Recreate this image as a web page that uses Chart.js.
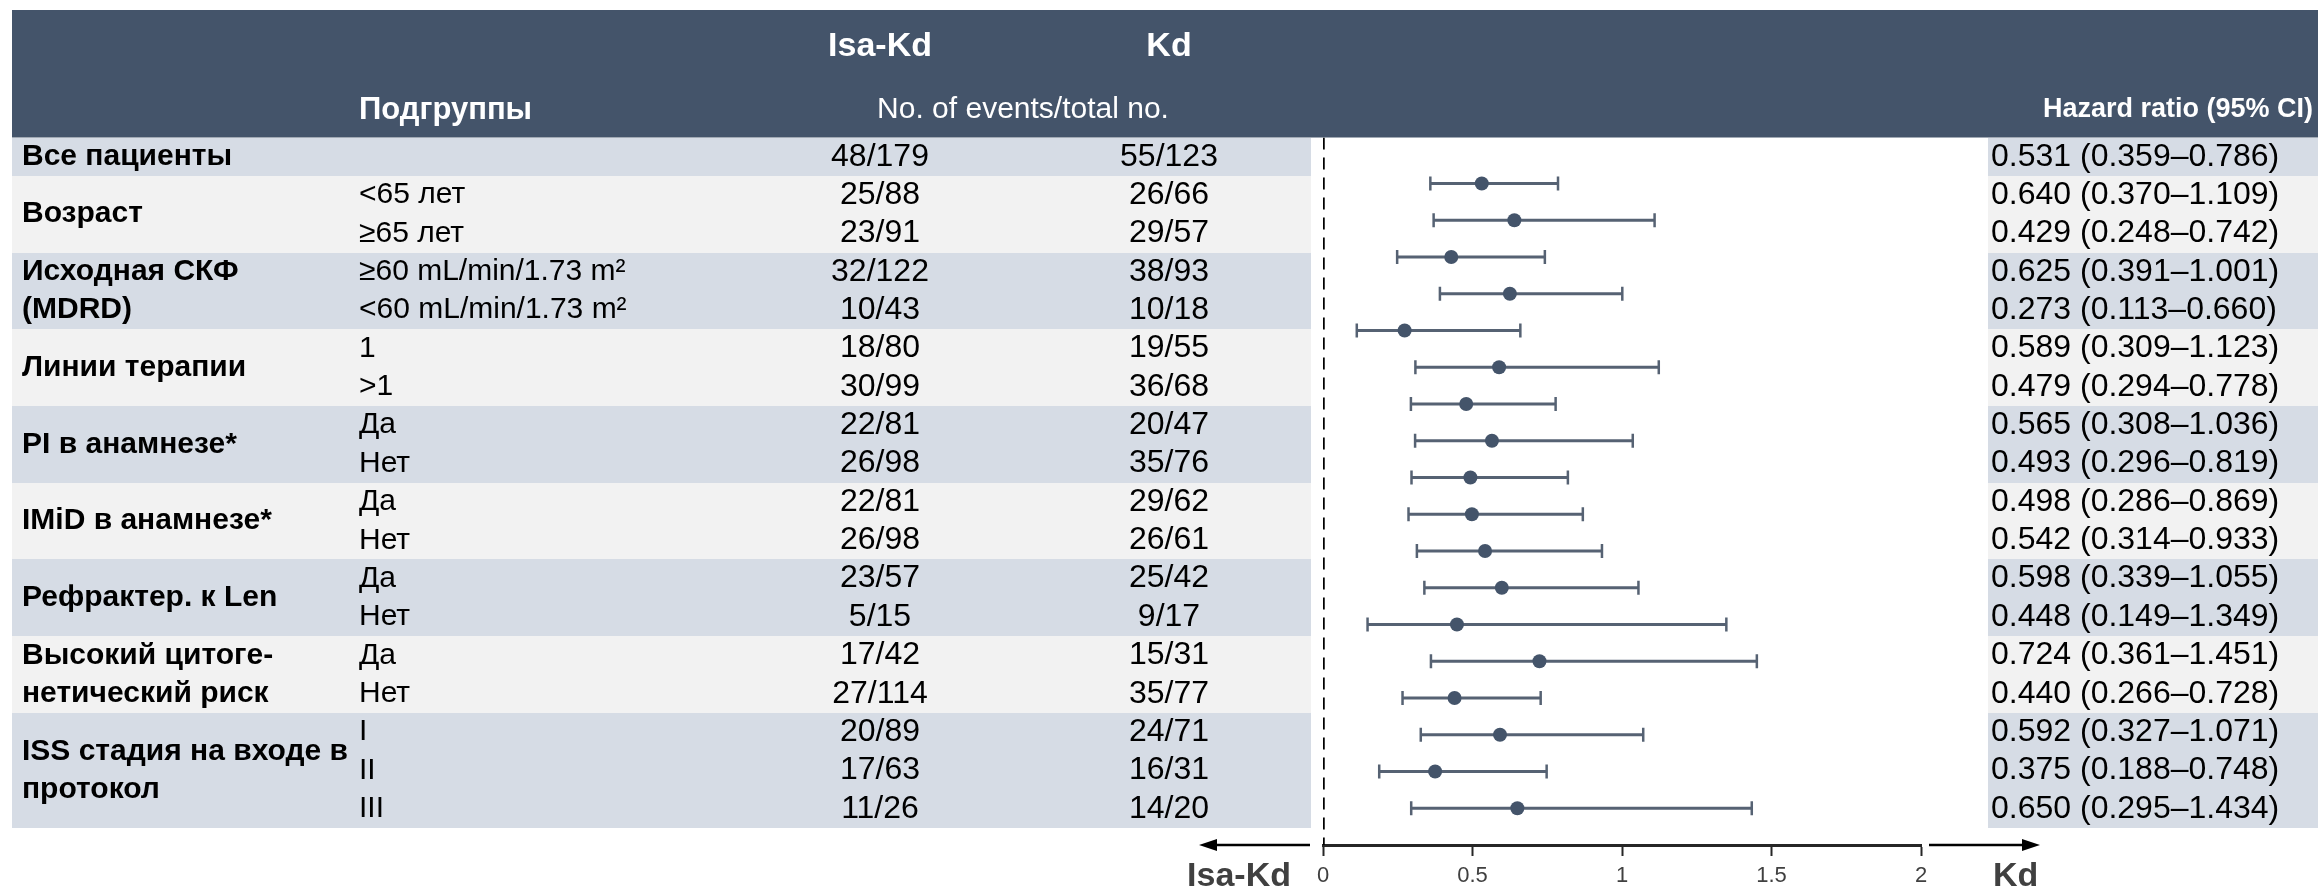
<!DOCTYPE html>
<html>
<head>
<meta charset="utf-8">
<script src="https://cdn.jsdelivr.net/npm/chart.js@4.4.1/dist/chart.umd.min.js"></script>
<style>
    html, body { margin: 0; padding: 0; background: #fff; }
    #wrap { width: 2318px; height: 892px; }
</style>
</head>
<body>
<div id="wrap"><canvas id="forest" width="2318" height="892"></canvas></div>
<script>
// Table content
const groupNames = [
    ['Все пациенты'],
    ['Возраст'],
    ['Исходная СКФ', '(MDRD)'],
    ['Линии терапии'],
    ['PI в анамнезе*'],
    ['IMiD в анамнезе*'],
    ['Рефрактер. к Len'],
    ['Высокий цитоге-', 'нетический риск'],
    ['ISS стадия на входе в', 'протокол']
];
const groupSizes = [1, 2, 2, 2, 2, 2, 2, 2, 3];
const subgroups = ['', '<65 лет', '≥65 лет', '≥60 mL/min/1.73 m²', '<60 mL/min/1.73 m²',
    '1', '>1', 'Да', 'Нет', 'Да', 'Нет', 'Да', 'Нет', 'Да', 'Нет', 'I', 'II', 'III'];
const isaKdEvents = ['48/179', '25/88', '23/91', '32/122', '10/43', '18/80', '30/99', '22/81', '26/98',
    '22/81', '26/98', '23/57', '5/15', '17/42', '27/114', '20/89', '17/63', '11/26'];
const kdEvents = ['55/123', '26/66', '29/57', '38/93', '10/18', '19/55', '36/68', '20/47', '35/76',
    '29/62', '26/61', '25/42', '9/17', '15/31', '35/77', '24/71', '16/31', '14/20'];

// Hazard ratios and 95% CI
const hazardRatio = [0.531, 0.640, 0.429, 0.625, 0.273, 0.589, 0.479, 0.565, 0.493,
    0.498, 0.542, 0.598, 0.448, 0.724, 0.440, 0.592, 0.375, 0.650];
const ciLower = [0.359, 0.370, 0.248, 0.391, 0.113, 0.309, 0.294, 0.308, 0.296,
    0.286, 0.314, 0.339, 0.149, 0.361, 0.266, 0.327, 0.188, 0.295];
const ciUpper = [0.786, 1.109, 0.742, 1.001, 0.660, 1.123, 0.778, 1.036, 0.819,
    0.869, 0.933, 1.055, 1.349, 1.451, 0.728, 1.071, 0.748, 1.434];
const xTicks = [0, 0.5, 1, 1.5, 2];

// Colours
const C = {
    header: '#44546A',
    bandBlue: '#D6DCE5',
    bandGray: '#F2F2F2',
    dot: '#44546A',
    whisker: '#566273',
    axis: '#262626',
    muted: '#404040'
};

// Layout
const W = 2318, H = 892;
const FONT = "'Liberation Sans', Arial, sans-serif";
const headerTop = 10, tableTop = 137.5, rowH = 38.36, tableLeft = 12;
const tableRight = 1311, hrLeft = 1988;
const col = { group: 22, sub: 359, isa: 880, kd: 1169, hr: 1991 };
const axisY = 845;
const rowY = i => tableTop + rowH * (i + 0.5);

const tablePlugin = {
    id: 'subgroupTable',
    beforeDraw(chart) {
        const ctx = chart.ctx;
        ctx.save();
        ctx.fillStyle = '#fff';
        ctx.fillRect(0, 0, W, H);
        ctx.fillStyle = C.header;
        ctx.fillRect(tableLeft, headerTop, W - tableLeft, tableTop - headerTop);

        let r = 0;
        groupSizes.forEach((n, g) => {
            const y0 = Math.round(tableTop + r * rowH);
            const y1 = Math.round(tableTop + (r + n) * rowH);
            ctx.fillStyle = g % 2 === 0 ? C.bandBlue : C.bandGray;
            ctx.fillRect(tableLeft, y0, tableRight - tableLeft, y1 - y0);
            ctx.fillRect(hrLeft, y0, W - hrLeft, y1 - y0);
            r += n;
        });
        ctx.restore();
    },
    afterDraw(chart) {
        const ctx = chart.ctx;
        const area = chart.chartArea;
        ctx.save();
        ctx.textBaseline = 'middle';

        // Header
        ctx.fillStyle = '#fff';
        ctx.font = `bold 34px ${FONT}`;
        ctx.textAlign = 'center';
        ctx.fillText('Isa-Kd', col.isa, 47);
        ctx.fillText('Kd', col.kd, 47);
        ctx.textAlign = 'left';
        ctx.font = `bold 31px ${FONT}`;
        ctx.fillText('Подгруппы', col.sub, 110);
        ctx.textAlign = 'center';
        ctx.font = `30px ${FONT}`;
        ctx.fillText('No. of events/total no.', 1023, 110);
        ctx.textAlign = 'right';
        ctx.font = `bold 27px ${FONT}`;
        ctx.fillText('Hazard ratio (95% CI)', W - 5, 110);

        // Rows
        ctx.fillStyle = '#000';
        subgroups.forEach((s, i) => {
            const y = rowY(i);
            ctx.font = `30px ${FONT}`;
            ctx.textAlign = 'left';
            ctx.fillText(s, col.sub, y);
            ctx.font = `32px ${FONT}`;
            ctx.textAlign = 'center';
            ctx.fillText(isaKdEvents[i], col.isa, y);
            ctx.fillText(kdEvents[i], col.kd, y);
            ctx.textAlign = 'left';
            ctx.fillText(`${hazardRatio[i].toFixed(3)} (${ciLower[i].toFixed(3)}–${ciUpper[i].toFixed(3)})`, col.hr, y);
        });

        // Group labels
        ctx.textAlign = 'left';
        ctx.font = `bold 30px ${FONT}`;
        let r = 0;
        groupNames.forEach((lines, g) => {
            const mid = r + (groupSizes[g] - 1) / 2;
            lines.forEach((t, k) => {
                ctx.fillText(t, col.group, rowY(mid + k - (lines.length - 1) / 2));
            });
            r += groupSizes[g];
        });

        // Direction arrows under the axis
        ctx.strokeStyle = '#000';
        ctx.fillStyle = '#000';
        ctx.lineWidth = 2.5;
        drawArrow(ctx, area.left - 13, area.left - 124, area.bottom);
        drawArrow(ctx, area.right + 8, area.right + 119, area.bottom);

        ctx.fillStyle = C.muted;
        ctx.font = `bold 34px ${FONT}`;
        ctx.textAlign = 'right';
        ctx.fillText('Isa-Kd', area.left - 32, 877);
        ctx.textAlign = 'left';
        ctx.fillText('Kd', area.right + 72, 877);
        ctx.restore();
    }
};

function drawArrow(ctx, x0, x1, y) {
    const dir = Math.sign(x1 - x0);
    ctx.beginPath();
    ctx.moveTo(x0, y);
    ctx.lineTo(x1 - dir * 12, y);
    ctx.stroke();
    ctx.beginPath();
    ctx.moveTo(x1, y);
    ctx.lineTo(x1 - dir * 18, y - 6);
    ctx.lineTo(x1 - dir * 18, y + 6);
    ctx.closePath();
    ctx.fill();
}

const yMin = -1.25, yMax = subgroups.length;

const pointData = {
    label: 'HR',
    data: hazardRatio.map((v, i) => ({ x: v, y: i })),
    showLine: false,
    pointStyle: 'circle',
    pointRadius: 7,
    pointBorderWidth: 0,
    pointBackgroundColor: C.dot,
    order: 0
};

const ciData = ciLower.map((lo, i) => ({
    label: 'CI ' + i,
    data: [{ x: lo, y: i }, { x: ciUpper[i], y: i }],
    borderColor: C.whisker,
    borderWidth: 3,
    pointStyle: 'line',
    pointRotation: 90,
    pointRadius: 7,
    pointBorderWidth: 2.5,
    pointBorderColor: C.whisker,
    order: 1
}));

const refLine = {
    label: 'ref',
    data: [{ x: 0, y: yMin }, { x: 0, y: yMax }],
    borderColor: '#000',
    borderWidth: 3.5,
    borderDash: [12, 8],
    pointRadius: 0,
    order: 2
};

Chart.defaults.font.family = FONT;

new Chart(document.getElementById('forest'), {
    type: 'line',
    data: { datasets: [pointData, ...ciData, refLine] },
    options: {
        responsive: false,
        animation: false,
        events: [],
        layout: { padding: { left: 1323, right: W - 1921, top: tableTop, bottom: 0 } },
        plugins: {
            legend: { display: false },
            tooltip: { enabled: false }
        },
        scales: {
            x: {
                type: 'linear',
                position: 'bottom',
                min: 0,
                max: 2,
                afterBuildTicks: scale => { scale.ticks = xTicks.map(v => ({ value: v })); },
                afterFit: scale => { scale.height = H - axisY; },
                ticks: {
                    color: C.muted,
                    font: { size: 22 },
                    padding: 7,
                    maxRotation: 0,
                    callback: value => String(value)
                },
                grid: {
                    drawOnChartArea: false,
                    drawTicks: true,
                    tickLength: 11,
                    tickWidth: 2,
                    color: C.axis
                },
                border: { display: true, color: C.axis, width: 3 }
            },
            y: {
                type: 'linear',
                reverse: true,
                min: yMin,
                max: yMax,
                display: false
            }
        }
    },
    plugins: [tablePlugin]
});
</script>
</body>
</html>
